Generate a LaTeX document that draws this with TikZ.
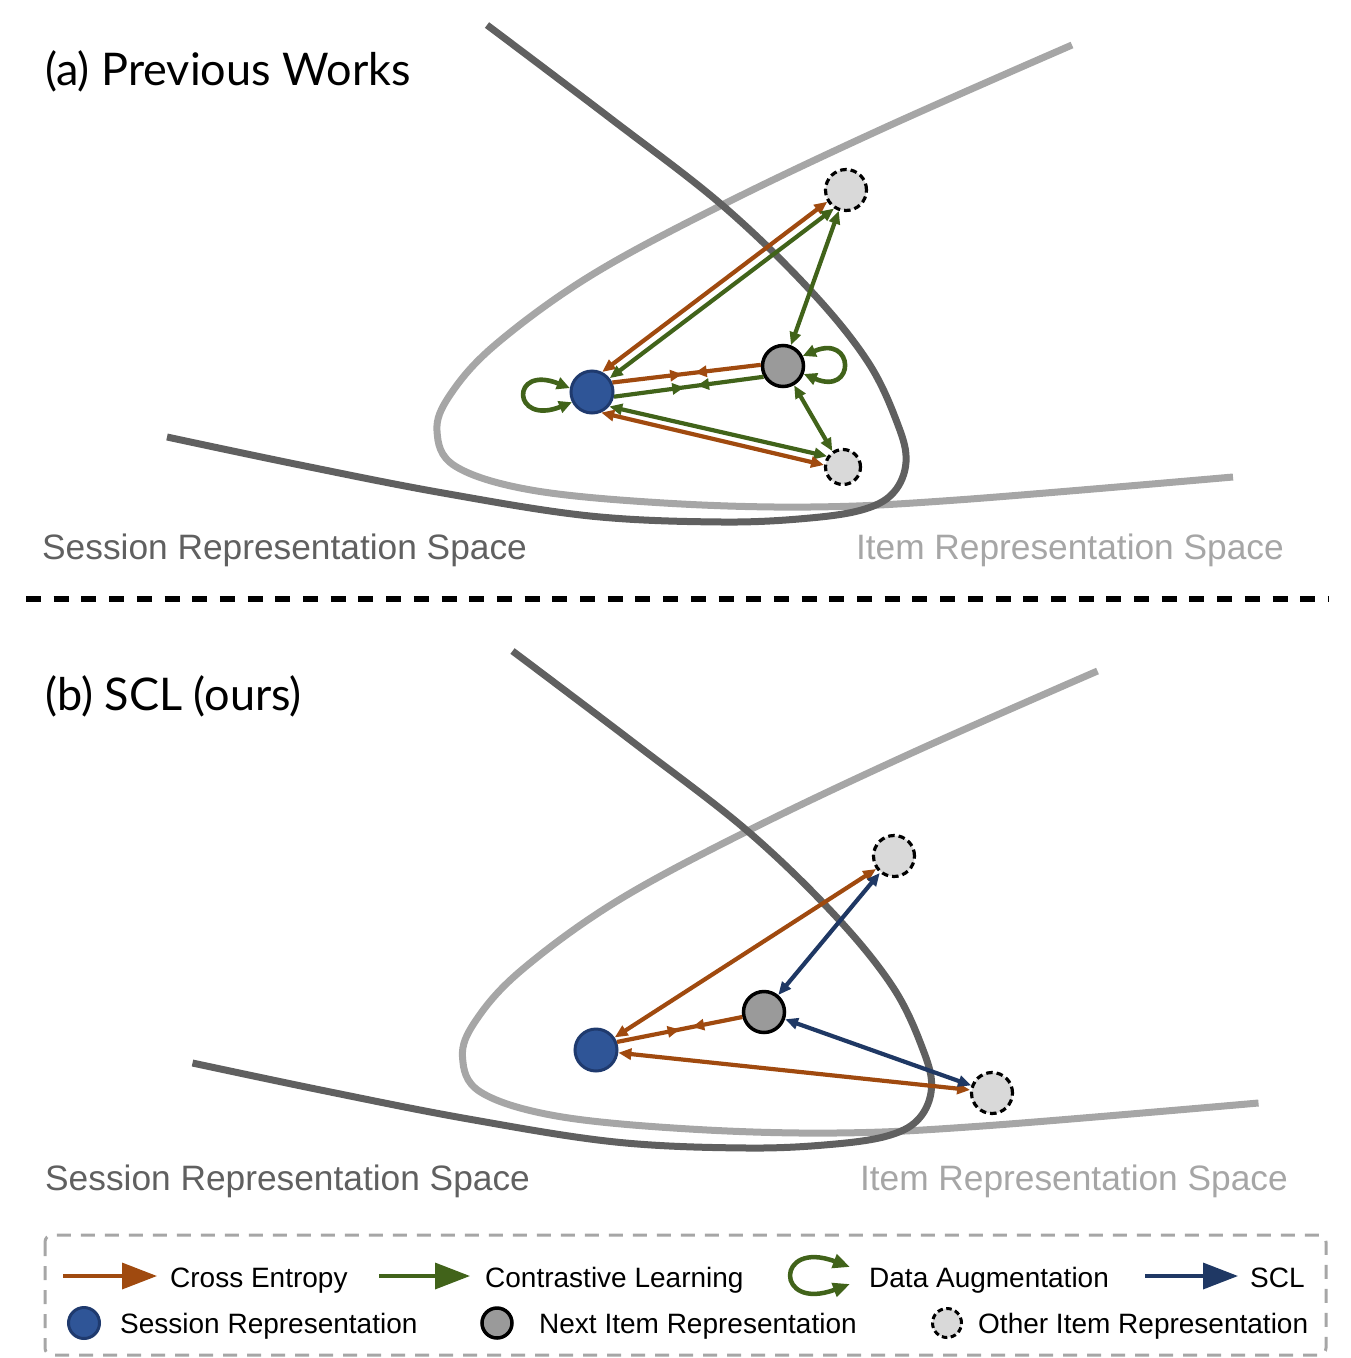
\documentclass[tikz,border=0pt]{standalone}
\usepackage{fontspec}
\setmainfont{Liberation Sans}
\newfontfamily\titlefont{Lato}
\usetikzlibrary{arrows.meta,decorations.markings}
\definecolor{ceor}{HTML}{A04A0F}
\definecolor{clgr}{HTML}{41631A}
\definecolor{sclb}{HTML}{1F3864}
\definecolor{sessf}{HTML}{2F5597}
\definecolor{sessd}{HTML}{1F3A6E}
\definecolor{nextf}{HTML}{9A9A9A}
\definecolor{othf}{HTML}{D9D9D9}
\definecolor{darkc}{HTML}{606060}
\definecolor{lightc}{HTML}{A6A6A6}
\begin{document}
\begin{tikzpicture}[x=1pt,y=-1pt,
  >={Triangle[length=13pt,width=11pt]},
  sessnode/.style={circle,draw=sessd,fill=sessf,line width=3pt,minimum size=42pt,inner sep=0pt},
  nextnode/.style={circle,draw=black,fill=nextf,line width=3.5pt,minimum size=41pt,inner sep=0pt},
  othnode/.style={circle,draw=black,fill=othf,line width=3.2pt,dash pattern=on 6.5pt off 4pt,minimum size=41pt,inner sep=0pt},
  ceL/.style={draw=ceor,line width=4.2pt},
  clL/.style={draw=clgr,line width=4.2pt},
  ce/.style={ceL,<->},
  cl/.style={clL,<->},
  scl/.style={draw=sclb,line width=4.2pt,<->},
  loopcl/.style={draw=clgr,line width=4.6pt,{Triangle[length=13pt,width=12pt]}-{Triangle[length=13pt,width=12pt]}},
  midpair/.style 2 args={postaction={decorate},decoration={markings,
     mark=at position #1 with {\arrow{Triangle[length=12pt,width=11pt]}},
     mark=at position #2 with {\arrowreversed{Triangle[length=12pt,width=11pt]}}}},
  darkcurve/.style={draw=darkc,line width=7pt},
  lightcurve/.style={draw=lightc,line width=7pt},
  titletext/.style={anchor=base west,inner sep=0pt,font=\titlefont\fontsize{45}{50}\selectfont},
  sesstext/.style={inner sep=0pt,text=darkc,font=\fontsize{35.3}{40}\selectfont},
  itemtext/.style={inner sep=0pt,text=lightc,font=\fontsize{35.3}{40}\selectfont},
  legtext/.style={anchor=base west,inner sep=0pt,font=\fontsize{28}{32}\selectfont},
  legbox/.style={draw=lightc,line width=3pt,dash pattern=on 14pt off 10pt,rounded corners=7pt}
]
\useasboundingbox (0,0) rectangle (1351,1358);

% ---------- representation spaces (both panels) ----------
\foreach \sx/\sy in {0/0,25.5/626}{
  \begin{scope}[shift={(\sx,\sy)}]
    \draw[lightcurve] plot[smooth,tension=0.6] coordinates {(1072,45) (884,128) (722,205) (590,276) (495,345) (450,395) (437,431) (455,466) (531,490) (664,503) (810,507) (957,500) (1233,477)};
    \draw[darkcurve] plot[smooth,tension=0.6] coordinates {(487,25) (610,118) (722,205) (810,290) (868,362) (898,425) (906,462) (894,492) (865,509) (810,518) (722,522) (590,516) (443,493) (300,465) (167,437)};
  \end{scope}
}

% ---------- panel (a) ----------
\node[titletext] (ta1) at (45,85) {(a) Previous Works};
\node[sesstext,anchor=base west] (la1) at (42,559) {Session Representation Space};
\node[itemtext,anchor=base east] (la2) at (1284,559) {Item Representation Space};

\node[sessnode] (sa) at (592,392) {};
\node[nextnode] (ga) at (783,366) {};
\node[othnode] (oa) at (846,190) {};
\node[othnode,minimum size=35pt] (ba) at (843,467) {};

\draw[ce] (sa.63) -- (oa.212);
\draw[cl] (sa.38) -- (oa.237);
\draw[cl] (ga.69) -- (oa.251);
\draw[ceL,midpair={0.47}{0.555}] (sa.25) -- (ga.177);
\draw[clL,midpair={0.47}{0.555}] (sa.-12) -- (ga.209);
\draw[cl] (sa.-40) -- (ba.146);
\draw[ce] (sa.-66) -- (ba.174);
\draw[cl] (ga.-60) -- (ba.124);
\draw[loopcl] (sa.170) .. controls +(-60,-24) and +(-60,24) .. (sa.207);
\draw[loopcl] (ga.27) .. controls +(52,-22) and +(52,22) .. (ga.-21);

% ---------- separator ----------
\draw[line width=6pt,dash pattern=on 15pt off 12.7pt] (26,599) -- (1328,599);

% ---------- panel (b) ----------
\node[titletext] (tb1) at (45,710) {(b) SCL (ours)};
\node[sesstext,anchor=base west] (lb1) at (45,1190) {Session Representation Space};
\node[itemtext,anchor=base east] (lb2) at (1288,1190) {Item Representation Space};

\node[sessnode] (sb) at (596,1050) {};
\node[nextnode] (gb) at (764,1012) {};
\node[othnode] (ob) at (894,856) {};
\node[othnode] (bb) at (992,1093) {};

\draw[ce] (sb.34) -- (ob.216);
\draw[scl] (gb.50) -- (ob.230);
\draw[ceL,midpair={0.5}{0.6}] (sb.21) -- (gb.193);
\draw[ce] (sb.-7) -- (bb.172);
\draw[scl] (gb.-19) -- (bb.160);

% ---------- legend ----------
\draw[legbox] (45,1235) rectangle (1326,1355);

\coordinate (lce1) at (63,1276);
\coordinate (lce2) at (157,1276);
\draw[draw=ceor,line width=3.5pt,-{Triangle[length=35pt,width=26pt]}] (lce1) -- (lce2);
\node[legtext] (tce) at (170,1287) {Cross Entropy};

\coordinate (lcl1) at (379,1276);
\coordinate (lcl2) at (470,1276);
\draw[draw=clgr,line width=3.5pt,-{Triangle[length=35pt,width=26pt]}] (lcl1) -- (lcl2);
\node[legtext] (tcl) at (485,1287) {Contrastive Learning};

\coordinate (lda1) at (850,1267);
\coordinate (lda2) at (850,1284);
\draw[draw=clgr,line width=4.5pt,{Triangle[length=17pt,width=14pt]}-{Triangle[length=17pt,width=14pt]}] (lda1) .. controls +(-75,-28) and +(-75,28) .. (lda2);
\node[legtext] (tda) at (869,1287) {Data Augmentation};

\coordinate (lsc1) at (1145,1276);
\coordinate (lsc2) at (1238,1276);
\draw[draw=sclb,line width=3.5pt,-{Triangle[length=35pt,width=26pt]}] (lsc1) -- (lsc2);
\node[legtext] (tsc) at (1250,1287) {SCL};

\node[sessnode,minimum size=31pt] (lss) at (84,1323) {};
\node[legtext] (tss) at (120,1333) {Session Representation};
\node[nextnode,minimum size=30pt] (lnx) at (497,1323) {};
\node[legtext] (tnx) at (539,1333) {Next Item Representation};
\node[othnode,minimum size=29pt,line width=3pt,dash pattern=on 5.5pt off 3.5pt] (lot) at (947,1323) {};
\node[legtext] (tot) at (978,1333) {Other Item Representation};
\end{tikzpicture}
\end{document}
